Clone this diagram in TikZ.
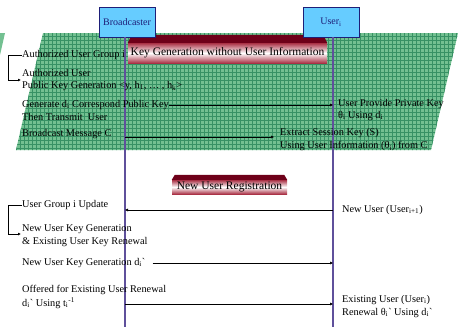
\documentclass[tikz,border=0pt]{standalone}
\usepackage{fontspec}
\setmainfont{Liberation Serif}
\usetikzlibrary{arrows.meta, calc}
\definecolor{boxblue}{RGB}{102,204,255}
\definecolor{boxline}{RGB}{30,30,120}
\definecolor{lifeline}{RGB}{95,80,155}
\definecolor{meshfill}{RGB}{115,192,145}
\definecolor{meshline}{RGB}{55,145,100}
\definecolor{bevelred}{RGB}{110,0,25}
\definecolor{bannerred}{RGB}{170,50,70}

\begin{document}
\begin{tikzpicture}[x=1pt, y=-1pt, >={Latex[length=3pt, width=3pt]},
  every node/.style={font=\fontsize{10.3}{12}\selectfont, inner sep=0pt},
  actor/.style={draw=boxline, line width=0.9pt, fill=boxblue, text=boxline, minimum width=56, minimum height=30, font=\fontsize{10}{12}\selectfont},
  msg/.style={anchor=west},
  banner/.style={top color=bannerred, bottom color=bannerred, middle color=white, font=\fontsize{11.5}{13}\selectfont},
  lline/.style={draw=lifeline, line width=1.2pt},
  arr/.style={->, line width=0.5pt},
  bracket/.style={->, line width=0.7pt}]
  \useasboundingbox (0,0) rectangle (458,330);
  \fill[meshfill] (43,33) -- (458,33) -- (431,150) -- (16,150) -- cycle;
  \fill[meshfill] (0,33) -- (5,33) -- (0,55) -- cycle;
  \begin{scope}
    \clip (43,33) -- (458,33) -- (431,150) -- (16,150) -- cycle;
    \draw[meshline, line width=0.5pt, step=4pt] (0,152) grid (458,30);
  \end{scope}
  \node[banner, minimum width=199, minimum height=20] (kgban) at (227.5,53) {Key Generation without User Information};
  \fill[bevelred] (kgban.north west) -- ([xshift=4pt, yshift=8pt]kgban.north west) -- ([xshift=-4pt, yshift=8pt]kgban.north east) -- (kgban.north east) -- cycle;
  \node[banner, minimum width=115, minimum height=14] (nuban) at (229.5,187) {New User Registration};
  \fill[bevelred] (nuban.north west) -- ([xshift=3pt, yshift=5pt]nuban.north west) -- ([xshift=-3pt, yshift=5pt]nuban.north east) -- (nuban.north east) -- cycle;
  \node[actor] (bc) at (127,22) {Broadcaster};
  \node[actor] (usr) at (331,22) {User\textsubscript{i}};
  \coordinate (bcbot) at (125,327);
  \coordinate (usrbot) at (333,327);
  \draw[lline] (bcbot |- bc.south) -- (bcbot);
  \draw[lline] (usrbot |- usr.south) -- (usrbot);
  \node[msg] (aug) at (22,55) {Authorized User Group i};
  \node[msg] (au) at (22,73) {Authorized User};
  \node[msg] (pkg) at (22,86) {Public Key Generation <y, h\textsubscript{1}, … , h\textsubscript{k}>};
  \node[msg] (gen) at (22,105) {Generate d\textsubscript{i} Correspond Public Key};
  \node[msg] (tt) at (22,117) {Then Transmit~ User};
  \node[msg] (bmc) at (22,134) {Broadcast Message C};
  \node[msg] (upk) at (338,104) {User Provide Private Key};
  \node[msg] (tud) at (338,116) {θ\textsubscript{i} Using d\textsubscript{i}};
  \node[msg] (esk) at (280,133) {Extract Session Key (S)};
  \node[msg] (uui) at (280,146) {Using User Information (θ\textsubscript{i}) from C};
  \coordinate (au1) at (21,80);
  \coordinate (bm) at (125,137);
  \draw[bracket] (aug.west) -- ++(-14,0) |- (au1);
  \draw[arr] (gen.east) -- (gen.east -| usrbot);
  \draw[arr, shorten >=6pt] (bm) -- (bm -| esk.west);
  \node[msg] (ugu) at (22,205) {User Group i Update};
  \node[msg] (nukg) at (22,229) {New User Key Generation};
  \node[msg] (eukr) at (22,242) {\& Existing User Key Renewal};
  \node[msg] (nukgd) at (22,263) {New User Key Generation d\textsubscript{i}\textasciigrave};
  \node[msg] (ofr) at (22,290) {Offered for Existing User Renewal};
  \node[msg] (dut) at (22,303) {d\textsubscript{i}\textasciigrave{} Using t\textsubscript{i}\textsuperscript{-1}};
  \node[msg] (nuu) at (342,210) {New User (User\textsubscript{i+1})};
  \node[msg] (euu) at (342,300) {Existing User (User\textsubscript{i})};
  \node[msg] (ren) at (342,313) {Renewal θ\textsubscript{i}\textasciigrave{} Using d\textsubscript{i}\textasciigrave};
  \coordinate (au2) at (21,234);
  \coordinate (nu) at (333,210);
  \coordinate (rn) at (125,304);
  \draw[bracket] (ugu.west) -- ++(-14,0) |- (au2);
  \draw[arr] (nu) -- (nu -| bcbot);
  \draw[arr, shorten <=7pt] (nukgd.east) -- (nukgd.east -| usrbot);
  \draw[arr] (rn) -- (rn -| usrbot);
\end{tikzpicture}
\end{document}
